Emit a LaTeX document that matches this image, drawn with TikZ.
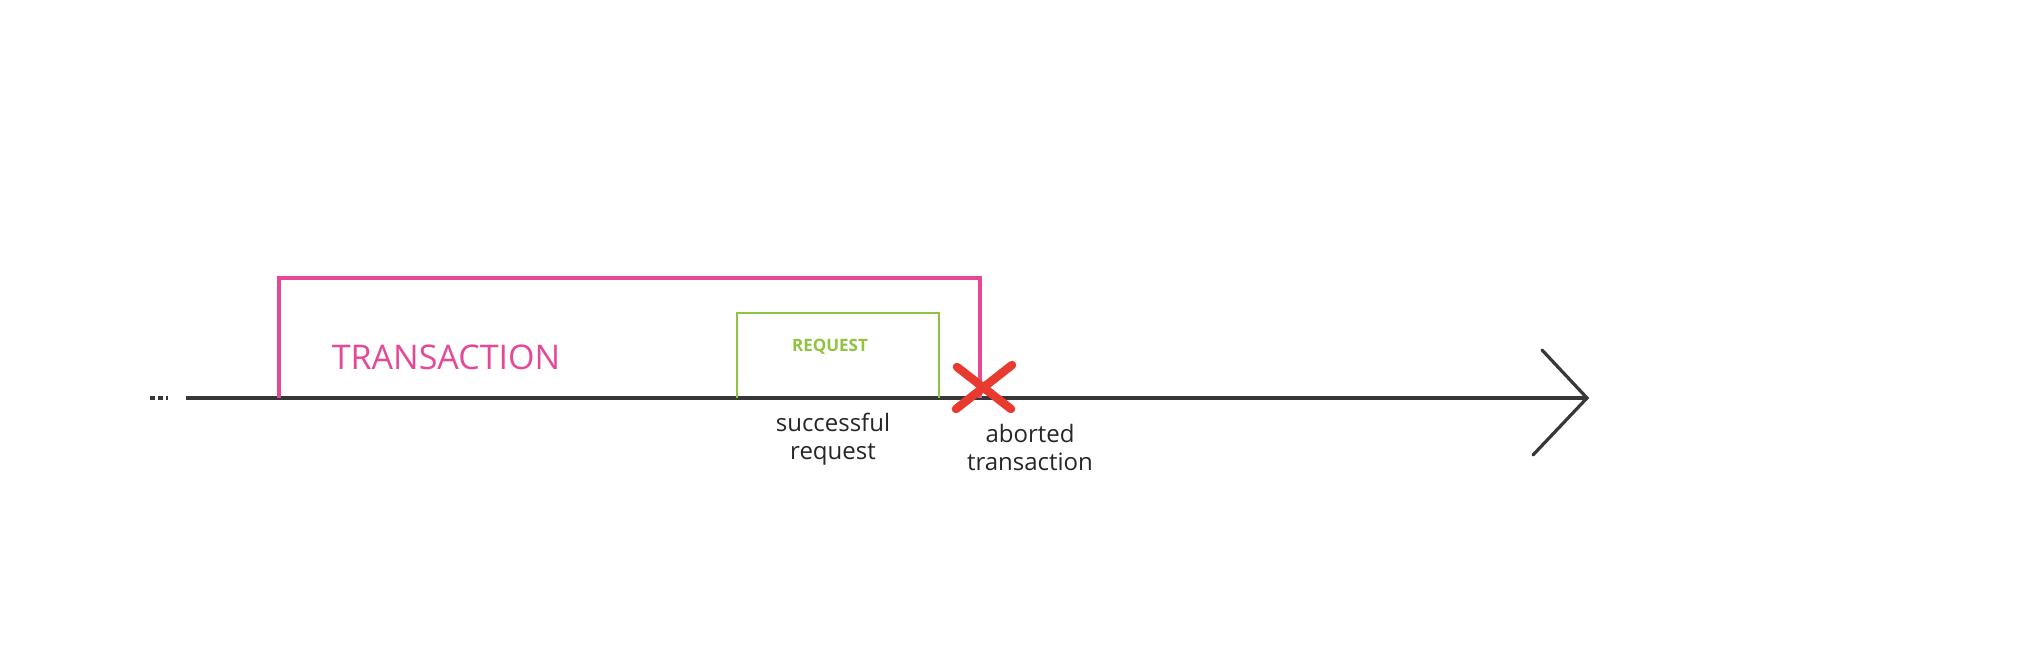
\documentclass[tikz,border=0pt]{standalone}
\usepackage{fontspec}
\setmainfont{Open Sans}
\definecolor{txpink}{RGB}{230,72,152}
\definecolor{reqgreen}{RGB}{142,196,62}
\definecolor{abortred}{RGB}{232,58,46}
\definecolor{axisgray}{RGB}{55,55,55}
\usetikzlibrary{positioning,calc}

\begin{document}
\begin{tikzpicture}[x=1pt,y=-1pt,
  axisline/.style={draw=axisgray,line width=3.2pt},
  txline/.style={draw=txpink,line width=3.2pt},
  reqline/.style={draw=reqgreen,line width=2.6pt},
  cross/.style={draw=abortred,line width=8.5pt,line cap=round},
  lbl/.style={font=\fontsize{24}{28}\selectfont,align=center,text=black!85}]
  \useasboundingbox (0,0) rectangle (2026,646);
  % timeline
  \coordinate (ta) at (150,398);
  \coordinate (tb) at (168,398);
  \coordinate (start) at (186,398);
  \coordinate (tip) at (1587,398);
  \coordinate (headu) at (1542,350);
  \coordinate (headl) at (1533,455);
  \draw[axisline,dash pattern=on 5pt off 3pt] (ta) -- (tb);
  \draw[axisline] (start) -- (tip);
  \draw[axisline,line cap=round] (headu) -- (tip) -- (headl);
  % transaction
  \coordinate (txa) at (279,398);
  \coordinate (txb) at (279,278);
  \coordinate (txc) at (980,278);
  \coordinate (txd) at (980,398);
  \draw[txline] (txa) -- (txb) -- (txc) -- (txd);
  \node[text=txpink,font=\fontsize{34}{34}\selectfont] (tx) at (446,357) {TRANSACTION};
  % request
  \coordinate (rqa) at (737,398);
  \coordinate (rqb) at (737,313);
  \coordinate (rqc) at (939,313);
  \coordinate (rqd) at (939,398);
  \draw[reqline] (rqa) -- (rqb) -- (rqc) -- (rqd);
  \node[text=reqgreen,font=\fontsize{17}{17}\selectfont\bfseries] (rq) at (830,347) {REQUEST};
  % abort
  \coordinate (xa) at (957,367);
  \coordinate (xb) at (1011,409);
  \coordinate (xc) at (1012,365);
  \coordinate (xd) at (956,409);
  \draw[cross] (xa) -- (xb);
  \draw[cross] (xc) -- (xd);
  % labels
  \node[lbl] (ok) at (833,439) {successful\\request};
  \node[lbl] (ab) at (1030,447) {aborted\\transaction};
\end{tikzpicture}
\end{document}
